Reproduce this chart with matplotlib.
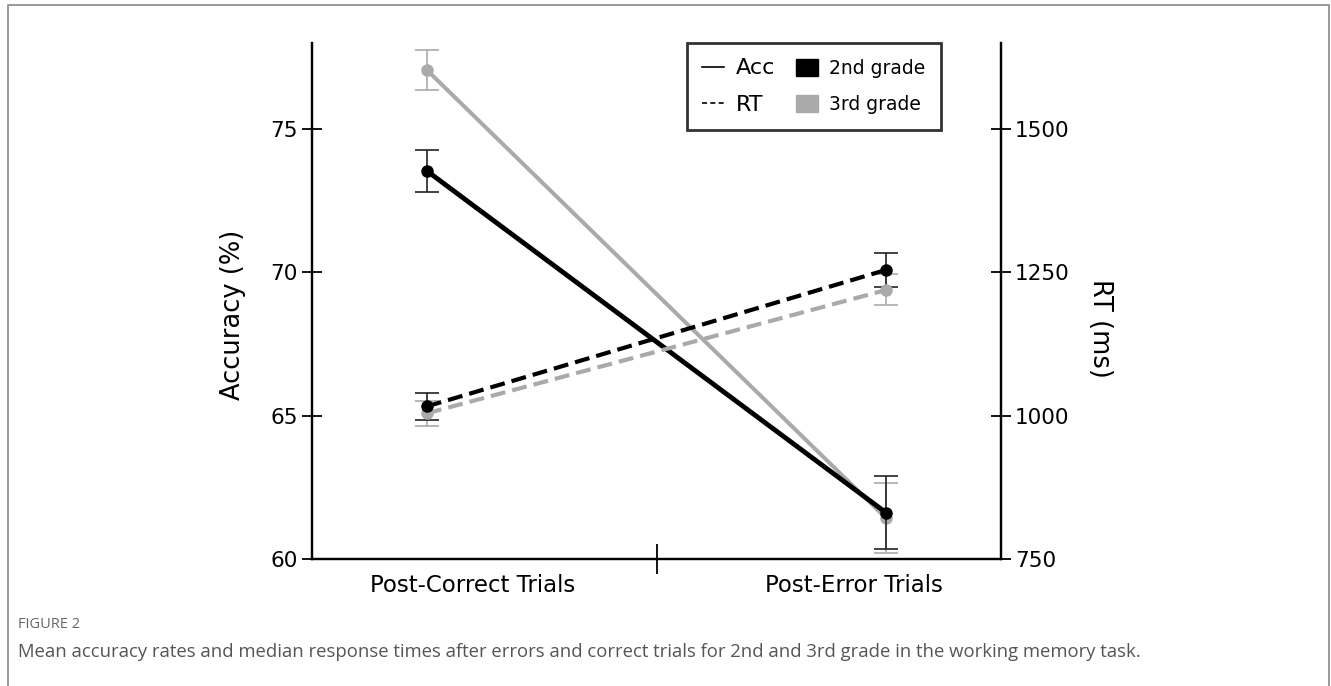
import matplotlib.pyplot as plt
from matplotlib.lines import Line2D
from matplotlib.patches import Patch

# Data
conditions = ["Post-Correct Trials", "Post-Error Trials"]
x_pos = [0, 1]

acc_2nd = [73.53, 61.61]
acc_2nd_err = [0.74, 1.27]
acc_3rd = [77.05, 61.42]
acc_3rd_err = [0.70, 1.22]

rt_2nd = [1016, 1254]
rt_2nd_err = [23, 30]
rt_3rd = [1004, 1219]
rt_3rd_err = [22, 27]

black = "#000000"
gray = "#aaaaaa"

fig = plt.figure(figsize=(13.31, 6.86), dpi=100)
ax = fig.add_axes([0.2344, 0.1851, 0.5177, 0.7527])
ax2 = ax.twinx()

# Accuracy (left axis)
ax.errorbar(x_pos, acc_3rd, yerr=acc_3rd_err, color=gray, lw=2.9, marker="o",
            ms=8, ecolor=gray, elinewidth=1.2, capsize=8.5, capthick=1.2, zorder=2)
ax.errorbar(x_pos, acc_2nd, yerr=acc_2nd_err, color=black, lw=3.5, marker="o",
            ms=8, ecolor="#222222", elinewidth=1.2, capsize=8.5, capthick=1.2, zorder=3)

# RT (right axis)
ax2.errorbar(x_pos, rt_3rd, yerr=rt_3rd_err, color=gray, lw=3, ls=(0, (3.6, 1.7)),
             marker="o", ms=8, ecolor=gray, elinewidth=1.2, capsize=8.5, capthick=1.2)
ax2.errorbar(x_pos, rt_2nd, yerr=rt_2nd_err, color=black, lw=3, ls=(0, (3.6, 1.7)),
             marker="o", ms=8, ecolor="#222222", elinewidth=1.2, capsize=8.5, capthick=1.2)

ax.set_xlim(-0.25, 1.25)
ax.set_ylim(60, 78)
ax2.set_ylim(750, 1650)

ax.set_yticks([60, 65, 70, 75])
ax2.set_yticks([750, 1000, 1250, 1500])

for a in (ax, ax2):
    a.spines["top"].set_visible(False)
    for s in a.spines.values():
        s.set_linewidth(1.6)
    a.tick_params(axis="y", direction="inout", length=14, width=1.3, labelsize=15.5, pad=3)

ax.set_xticks([0.5], [""])
ax.set_xticks([0.1, 0.93], conditions, minor=True)
ax.tick_params(axis="x", which="major", direction="inout", length=22, width=1.3)
ax.tick_params(axis="x", which="minor", length=0, labelsize=16.5, pad=11)

ax.set_ylabel("Accuracy (%)", fontsize=18.5, va="center")
ax.yaxis.set_label_coords(-0.1147, 0.473)
ax2.set_ylabel("RT (ms)", fontsize=18.5, rotation=270, va="center")
ax2.yaxis.set_label_coords(1.144, 0.446)

handles = [
    Line2D([], [], color=black, lw=1.2),
    Line2D([], [], color=black, lw=1.2, ls=(0, (3, 2))),
    Patch(facecolor=black, edgecolor=black),
    Patch(facecolor=gray, edgecolor=gray),
]
labels = ["Acc", "RT", "2nd grade", "3rd grade"]
leg = ax.legend(handles, labels, ncol=2, loc="upper left", bbox_to_anchor=(0.544, 1.0),
                borderaxespad=0, fontsize=14, frameon=True, fancybox=False,
                edgecolor=black, handlelength=1.1, handleheight=1.0, handletextpad=0.6,
                columnspacing=1.1, labelspacing=0.85, borderpad=0.8)
leg.get_frame().set_linewidth(2)
for t, size in zip(leg.get_texts(), [16, 16, 13.5, 13.5]):
    t.set_fontsize(size)

# figure frame and caption
fx0, fx1, fy = 8 / 1331, 1329 / 1331, 1 - 4.5 / 686
fig.add_artist(Line2D([fx0, fx0, fx1, fx1], [0, fy, fy, 0], color="#999999", lw=1.4,
                      transform=fig.transFigure))
fig.text(18 / 1331, 1 - 625 / 686, "FIGURE 2", fontsize=10.5, color="#666666",
         family="Open Sans", va="center")
fig.text(18 / 1331, 1 - 652 / 686,
         "Mean accuracy rates and median response times after errors and correct trials "
         "for 2nd and 3rd grade in the working memory task.",
         fontsize=13.3, color="#555555", family="Open Sans", va="center")

fig.savefig("out.png", dpi=100)
